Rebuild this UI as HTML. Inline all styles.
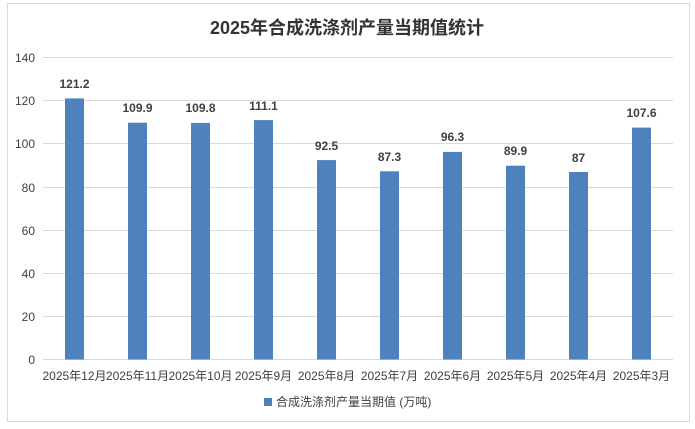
<!DOCTYPE html>
<html><head><meta charset="utf-8"><style>
body{margin:0;background:#fff;}
svg{display:block;font-family:"Liberation Sans","Noto Sans CJK SC",sans-serif;}
</style></head><body>
<svg width="695" height="429" xmlns="http://www.w3.org/2000/svg">
<rect x="0" y="0" width="695" height="429" fill="#fff"/>
<rect x="7.5" y="3.5" width="682" height="418" fill="none" stroke="#d9d9d9"/>
<text x="347" y="34" text-anchor="middle" font-size="18" font-weight="bold" fill="#333">2025年合成洗涤剂产量当期值统计</text>
<g stroke="#d9d9d9" stroke-width="1">
<line x1="43" x2="673" y1="57.5" y2="57.5"/><line x1="43" x2="673" y1="100.5" y2="100.5"/>
<line x1="43" x2="673" y1="143.5" y2="143.5"/><line x1="43" x2="673" y1="187.5" y2="187.5"/>
<line x1="43" x2="673" y1="230.5" y2="230.5"/><line x1="43" x2="673" y1="273.5" y2="273.5"/>
<line x1="43" x2="673" y1="316.5" y2="316.5"/><line x1="43" x2="673" y1="359.5" y2="359.5"/>
</g>
<g font-size="12" fill="#404040" text-anchor="end">
<text x="35" y="62">140</text><text x="35" y="105">120</text><text x="35" y="148">100</text>
<text x="35" y="192">80</text><text x="35" y="235">60</text><text x="35" y="278">40</text>
<text x="35" y="321">20</text><text x="35" y="364">0</text>
</g>
<g fill="#4f81bd">
<rect x="65" y="98.4" width="19" height="261.1"/>
<rect x="128" y="122.7" width="19" height="236.8"/>
<rect x="191" y="122.9" width="19" height="236.6"/>
<rect x="254" y="120.1" width="19" height="239.4"/>
<rect x="317" y="160.1" width="19" height="199.4"/>
<rect x="380" y="171.3" width="19" height="188.2"/>
<rect x="443" y="151.9" width="19" height="207.6"/>
<rect x="506" y="165.7" width="19" height="193.8"/>
<rect x="569" y="172" width="19" height="187.5"/>
<rect x="632" y="127.6" width="19" height="231.9"/>
</g>
<g font-size="12" font-weight="bold" fill="#404040" text-anchor="middle">
<text x="74.5" y="88">121.2</text><text x="137.5" y="112">109.9</text><text x="200.5" y="112">109.8</text>
<text x="263.5" y="110">111.1</text><text x="326.5" y="150">92.5</text><text x="389.5" y="161">87.3</text>
<text x="452.5" y="141">96.3</text><text x="515.5" y="155">89.9</text><text x="578.5" y="162">87</text>
<text x="641.5" y="117">107.6</text>
</g>
<g font-size="12" fill="#404040" text-anchor="middle">
<text x="74.5" y="380">2025年12月</text><text x="137.5" y="380">2025年11月</text><text x="200.5" y="380">2025年10月</text>
<text x="263.5" y="380">2025年9月</text><text x="326.5" y="380">2025年8月</text><text x="389.5" y="380">2025年7月</text>
<text x="452.5" y="380">2025年6月</text><text x="515.5" y="380">2025年5月</text><text x="578.5" y="380">2025年4月</text>
<text x="641.5" y="380">2025年3月</text>
</g>
<rect x="264" y="398" width="8" height="8" fill="#4f81bd"/>
<text x="276" y="406" font-size="12" fill="#404040">合成洗涤剂产量当期值 (万吨)</text>
</svg>
</body></html>
